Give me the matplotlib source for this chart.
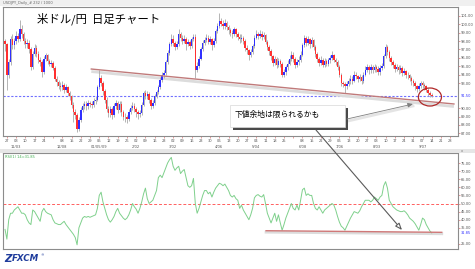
import numpy as np
import matplotlib.pyplot as plt
from matplotlib.patches import Ellipse, Rectangle, FancyArrowPatch

plt.rcParams['font.family'] = ['DejaVu Sans']
JP = ['Noto Sans CJK JP', 'DejaVu Sans']

# USD/JPY daily candles (232 bars)
first_open = 98.0
closes = [
    97.6, 94.0, 95.5, 98.3, 97.5, 98.0, 98.6, 98.3, 99.5, 98.8,
    98.0, 97.6, 97.8, 97.0, 94.9, 96.5, 97.2, 96.5, 95.8, 95.5,
    94.3, 95.9, 96.3, 95.6, 95.3, 95.4, 94.8, 93.5, 93.1, 92.7,
    92.5, 92.8, 92.2, 92.5, 91.8, 91.4, 90.4, 89.5, 89.2, 87.5,
    88.6, 89.8, 90.2, 90.5, 90.2, 90.6, 90.5, 90.4, 90.8, 91.0,
    92.5, 93.6, 93.0, 92.0, 91.0, 89.9, 89.4, 89.9, 89.2, 90.2,
    90.6, 89.8, 90.5, 89.5, 89.0, 88.9, 88.7, 89.6, 90.0, 90.3,
    89.9, 89.6, 89.3, 89.4, 90.4, 91.8, 91.5, 91.7, 91.0, 90.3,
    90.6, 91.4, 91.9, 92.5, 93.4, 94.0, 94.2, 95.5, 96.6, 97.6,
    98.2, 97.8, 97.3, 97.6, 98.8, 98.4, 98.0, 98.3, 97.7, 97.9,
    97.4, 98.2, 98.5, 94.6, 95.0, 95.9, 97.0, 97.8, 98.1, 98.4,
    97.9, 98.2, 97.5, 98.0, 99.2, 99.8, 100.4, 100.1, 99.8, 100.2,
    99.7, 99.3, 99.0, 98.8, 99.4, 98.9, 98.5, 98.2, 98.4, 98.0,
    97.2, 96.9, 96.4, 96.7, 97.4, 98.4, 98.8, 98.6, 98.9, 98.5,
    98.7, 97.9, 97.3, 96.8, 96.2, 95.4, 95.9, 95.2, 95.6, 95.3,
    94.0, 94.3, 94.9, 95.3, 95.9, 96.4, 95.9, 95.2, 95.5, 95.8,
    96.4, 97.5, 98.4, 97.8, 98.2, 97.6, 98.1, 97.3, 96.5, 95.9,
    95.4, 95.8, 95.2, 95.6, 95.3, 95.7, 96.0, 96.3, 95.8, 95.5,
    94.9, 94.0, 93.0, 92.9, 92.6, 92.9, 93.2, 93.5, 93.3, 94.0,
    93.8, 93.5, 93.7, 93.2, 94.0, 94.6, 94.9, 94.5, 94.9, 94.6,
    94.9, 94.7, 94.3, 94.8, 95.0, 96.2, 97.3, 96.7, 96.0, 95.5,
    95.2, 94.7, 94.9, 94.5, 94.8, 94.2, 94.4, 94.0, 93.9, 93.6,
    93.2, 93.0, 92.6, 92.3, 92.7, 93.0, 92.8, 92.6, 92.2, 91.8,
    91.6, 91.5,
]
highs = [
    98.3, 97.8, 95.9, 98.6, 98.8, 98.4, 99.2, 99.0, 100.5, 99.9,
    99.1, 98.4, 98.2, 98.1, 97.3, 96.8, 97.6, 97.5, 96.8, 96.1,
    95.7, 96.2, 96.6, 96.5, 95.9, 95.8, 95.6, 95.0, 93.8, 93.4,
    93.1, 93.2, 93.0, 92.9, 92.7, 92.1, 91.6, 90.7, 89.9, 89.4,
    88.9, 90.1, 90.6, 90.9, 90.8, 91.0, 90.9, 90.8, 91.2, 91.5,
    92.8, 94.6, 94.0, 93.3, 92.3, 91.3, 90.2, 90.3, 90.1, 90.6,
    91.0, 90.9, 90.9, 90.8, 89.8, 89.4, 89.2, 89.9, 90.4, 90.7,
    90.6, 90.1, 89.8, 89.8, 90.7, 92.1, 92.2, 92.0, 91.9, 91.2,
    91.0, 91.7, 92.2, 92.8, 93.7, 94.3, 94.6, 95.8, 96.9, 97.9,
    98.8, 98.7, 98.0, 98.0, 99.4, 99.1, 98.7, 98.7, 98.5, 98.3,
    98.1, 98.5, 98.9, 98.8, 95.5, 96.2, 97.3, 98.1, 98.5, 98.8,
    98.7, 98.6, 98.4, 98.4, 99.5, 100.2, 101.4, 100.8, 100.5, 100.6,
    100.4, 99.9, 99.6, 99.3, 99.7, 99.6, 99.1, 98.8, 98.8, 98.6,
    98.2, 97.5, 97.1, 97.1, 97.7, 98.7, 99.3, 99.1, 99.3, 99.2,
    99.1, 98.9, 98.1, 97.5, 97.0, 96.4, 96.2, 96.1, 96.0, 95.9,
    95.5, 94.7, 95.2, 95.7, 96.3, 96.8, 96.7, 96.1, 95.9, 96.2,
    96.8, 97.8, 98.7, 98.6, 98.6, 98.4, 98.5, 98.3, 97.5, 96.7,
    96.1, 96.2, 96.0, 96.0, 95.9, 96.0, 96.4, 96.8, 96.5, 96.0,
    95.7, 95.1, 94.2, 93.3, 93.1, 93.2, 93.6, 93.9, 93.8, 94.4,
    94.3, 94.0, 94.1, 93.9, 94.3, 95.0, 95.3, 95.2, 95.3, 95.1,
    95.3, 95.2, 95.0, 95.1, 95.4, 96.5, 97.7, 97.5, 96.9, 96.2,
    95.7, 95.4, 95.3, 95.1, 95.2, 95.0, 94.8, 94.6, 94.3, 94.1,
    93.8, 93.5, 93.2, 92.8, 93.0, 93.3, 93.2, 93.0, 92.8, 92.4,
    92.0, 91.8,
]
lows = [
    96.8, 92.2, 93.6, 95.2, 97.1, 97.1, 97.7, 97.9, 98.0, 98.4,
    97.6, 97.2, 97.2, 96.6, 94.6, 94.7, 96.2, 96.1, 95.4, 95.0,
    93.7, 94.1, 95.6, 95.3, 95.0, 94.9, 94.5, 93.2, 92.7, 92.3,
    92.1, 92.2, 91.8, 91.9, 91.4, 91.0, 90.0, 88.4, 88.7, 87.1,
    87.3, 88.4, 89.5, 89.9, 89.8, 89.9, 90.1, 90.0, 90.1, 90.5,
    90.8, 92.3, 92.6, 91.6, 90.6, 89.5, 88.9, 89.0, 88.7, 89.0,
    89.9, 89.4, 89.5, 89.1, 88.6, 88.3, 88.2, 88.5, 89.3, 89.8,
    89.5, 89.0, 88.7, 88.9, 89.2, 90.2, 91.1, 91.1, 90.6, 89.9,
    90.0, 90.4, 91.2, 91.7, 92.3, 93.1, 93.6, 94.0, 95.3, 96.4,
    97.4, 97.4, 96.9, 97.0, 97.4, 98.0, 97.6, 97.8, 96.9, 97.4,
    97.0, 97.2, 98.0, 93.6, 94.3, 94.8, 95.7, 96.8, 97.5, 97.9,
    97.6, 97.7, 96.9, 97.3, 97.8, 99.0, 99.6, 99.8, 99.4, 99.5,
    99.3, 98.9, 98.6, 98.4, 98.6, 98.5, 98.1, 97.8, 97.9, 97.6,
    96.8, 96.5, 95.7, 96.1, 96.5, 97.2, 98.2, 98.2, 98.4, 98.1,
    98.2, 97.6, 96.9, 96.4, 95.8, 95.0, 95.1, 94.8, 94.9, 94.9,
    93.7, 93.7, 94.0, 94.6, 95.1, 95.6, 95.5, 94.8, 94.9, 95.2,
    95.5, 96.2, 97.3, 97.4, 97.5, 97.2, 97.3, 96.9, 96.1, 95.5,
    95.0, 95.1, 94.9, 94.9, 95.0, 95.0, 95.4, 95.8, 95.5, 95.1,
    94.5, 93.7, 92.7, 92.5, 91.8, 92.3, 92.6, 92.9, 92.9, 93.1,
    93.5, 93.1, 93.2, 92.9, 93.0, 93.8, 94.3, 94.1, 94.2, 94.2,
    94.3, 94.3, 93.9, 94.0, 94.5, 94.8, 96.0, 96.3, 95.6, 95.1,
    94.8, 94.3, 94.4, 94.1, 94.2, 93.8, 93.9, 93.6, 93.5, 93.2,
    92.8, 92.6, 92.2, 91.9, 92.0, 92.4, 92.4, 92.2, 91.9, 91.5,
    91.3, 91.3,
]
rsi = [
    34, 28, 40, 44, 44, 46, 47, 48, 46, 44,
    44, 43, 40, 38, 37, 46, 45, 43, 41, 39,
    45, 47, 45, 44, 43.5, 43, 40, 38, 37.5, 37,
    37, 38, 39, 37, 35.5, 34, 32.5, 31, 29, 24.5,
    35, 38, 41, 42, 41.5, 42, 41.5, 42, 42.5, 43,
    47, 55, 57, 51, 47, 43, 40, 38.5, 40, 42,
    45, 47, 44, 42.5, 41, 40, 41, 43, 46, 50,
    48, 46.5, 44, 47, 51, 56, 59.5, 53, 50, 51,
    52, 55, 58, 66, 67.5, 66, 69, 72, 75, 77,
    78.5, 73, 70.5, 72, 73, 68.5, 70, 71, 66, 61,
    60, 61, 65.5, 50, 44, 47, 51, 55, 58, 58,
    56, 57, 54, 57, 59.5, 61, 62.5, 62, 61, 62,
    60, 58, 55, 54, 55, 53, 52, 47, 49, 46,
    44, 42, 40, 43, 47, 53.5, 55, 55.5, 54.5, 54,
    55.5, 50, 44, 41, 38, 41, 44, 39, 43, 38,
    33.5, 37, 41, 44, 47, 50, 47, 46, 49, 46,
    52, 58.5, 59.5, 55, 56, 55, 55, 50, 47, 46,
    48, 46, 44, 46, 47, 48, 49, 50, 49, 46,
    42, 38.5, 36, 35, 33.5, 36, 38.5, 41, 43, 45,
    44.5, 44, 45.5, 48, 50, 52, 52, 52, 51, 52,
    54, 53, 52, 54, 55, 61, 63.5, 59.5, 52, 50,
    48, 47, 46, 45.5, 45, 45, 45.5, 44.5, 43, 41,
    40, 39, 37.5, 35.5, 33.5, 37, 41, 40, 37, 35,
    33, 31.85,
]

# weekly date labels (every 5th bar, starting at bar 1)
day_labels = ["27", "03", "10", "17", "24", "", "08", "15", "22", "29",
              "05", "12", "19", "26", "02", "09", "16", "23", "02", "09",
              "16", "23", "30", "06", "13", "20", "27", "04", "11", "18",
              "25", "", "08", "15", "22", "29", "06", "13", "20", "27",
              "03", "10", "17", "24", "31", "07", "14", "21", "28"]
month_labels = {1: "11/03", 6: "12/08", 10: "01/05/09", 14: "2/02", 18: "3/02",
                23: "4/06", 27: "5/04", 32: "6/08", 36: "7/06", 40: "8/03",
                45: "9/07"}

price_ticks = [101, 100, 99, 98, 97, 96, 95, 94, 93, 90, 89, 88, 87]
rsi_ticks = [75, 70, 65, 60, 55, 50, 45, 40, 35, 25]
last_price = 91.50
last_rsi = 31.85

# hand-drawn lines on the chart (bar index, value)
trend_x = [46.7, 243.0]
trend_y = [94.67, 90.50]
rsi_support_x = [141.3, 236.4]
rsi_support_y = [33.2, 32.2]

W, H = 475, 269
fig = plt.figure(figsize=(W / 100, H / 100), dpi=100)
fig.patch.set_facecolor('white')


def px_axes(l, t, r, b):
    return fig.add_axes([l / W, 1 - b / H, (r - l) / W, (b - t) / H])


o = np.array([first_open] + closes[:-1])
c = np.array(closes)
hi = np.array(highs)
lo = np.array(lows)
n = min(len(c), len(hi), len(lo))
o, c, hi, lo = o[:n], c[:n], hi[:n], lo[:n]
idx = np.arange(n)

xlim = (-1.1, 245.2)
lab_fs = 2.6

# ---- price panel
ax = px_axes(3, 7, 458, 136)
ax.set_xlim(*xlim)
ax.set_ylim(86.68, 102.07)
ax.axhline(last_price, color='#7070ff', lw=0.8, ls=(0, (2, 1.5)), zorder=1)
ax.vlines(idx, lo, hi, color='#a8a8a8', lw=0.6, zorder=2)
body = np.where(np.abs(c - o) < 0.1, 0.1, np.abs(c - o))
bot = np.minimum(o, c)
up = c >= o
ax.bar(idx[up], body[up], bottom=bot[up], width=0.8, color='#3030ff', lw=0, zorder=3)
ax.bar(idx[~up], body[~up], bottom=bot[~up], width=0.8, color='#ff3030', lw=0, zorder=3)

ax.plot(trend_x, [v - 0.3 for v in trend_y], color='#dcdcdc', lw=2.0, zorder=1.5,
        solid_capstyle='butt')
ax.plot(trend_x, trend_y, color='#c07a7a', lw=1.0, zorder=4)
ax.add_patch(Ellipse((230, 91.33), 12.5, 2.15, fill=False, ec='#b02828', lw=0.9, zorder=5))

ax.yaxis.tick_right()
ax.set_yticks(price_ticks)
ax.set_yticklabels(['%.2f' % v for v in price_ticks])
ax.annotate('%.2f' % last_price, xy=(1, last_price), xycoords=('axes fraction', 'data'),
            xytext=(2.2, 0), textcoords='offset points', fontsize=lab_fs, color='#3030ff',
            va='center', ha='left')
xt = [1 + 5 * k for k in range(len(day_labels))]
xl = [d + ('\n' + month_labels[k] if k in month_labels else '\n') for k, d in enumerate(day_labels)]
ax.set_xticks(xt)
ax.set_xticklabels(xl, linespacing=1.6)
ax.tick_params(axis='both', labelsize=lab_fs, labelcolor='#555555', color='#e07070',
               width=0.5, length=1.4, pad=0.8)

# ---- RSI panel
ax2 = px_axes(3, 153, 458, 249)
ax2.set_xlim(*xlim)
ax2.set_ylim(21.9, 81.2)
ax2.axhline(50, color='#ff6060', lw=0.7, ls=(0, (3, 2)), zorder=1)
ax2.plot(idx, rsi[:n], color='#7fd08c', lw=0.7, zorder=3)
ax2.plot(rsi_support_x, [v - 0.9 for v in rsi_support_y], color='#dcdcdc', lw=2.0, zorder=1.5)
ax2.plot(rsi_support_x, rsi_support_y, color='#d07878', lw=1.0, zorder=4)
ax2.yaxis.tick_right()
ax2.set_yticks(rsi_ticks)
ax2.set_yticklabels(['%.2f' % v for v in rsi_ticks])
ax2.annotate('%.2f' % last_rsi, xy=(1, last_rsi), xycoords=('axes fraction', 'data'),
             xytext=(2.2, 0), textcoords='offset points', fontsize=lab_fs, color='#3030ff',
             va='center', ha='left')
ax2.set_xticks([])
ax2.tick_params(axis='y', labelsize=lab_fs, labelcolor='#555555', color='#e07070',
                width=0.5, length=1.4, pad=0.8)
ax2.text(0.004, 0.975, 'RSI(1) 14=31.85', transform=ax2.transAxes, fontsize=2.6,
         color='#40b050', va='top', ha='left')

for a in (ax, ax2):
    for s in a.spines.values():
        s.set_color('#8c8c8c')
        s.set_linewidth(0.8)

# ---- overlay in pixel coordinates for callouts and chrome
ov = fig.add_axes([0, 0, 1, 1])
ov.set_xlim(0, W)
ov.set_ylim(H, 0)
ov.axis('off')
ov.patch.set_alpha(0)
ov.set_zorder(10)

ov.add_patch(Rectangle((0, 0), W, 5.5, color='#f0f0f0', lw=0, zorder=0))
ov.text(3, 3.2, 'USDJPY_Daily_# 232 / 1000', fontsize=2.6, color='#666666', va='center')
ov.add_patch(Rectangle((0, 149), W, 3.5, color='#e6e6e6', lw=0, zorder=0))
ov.text(461, 150.8, 'x', fontsize=2.6, color='#777777', va='center')

ov.text(37, 18.5, '米ドル/円  日足チャート', fontsize=8.2, family=JP, color='black',
        va='center', ha='left')

# callout box with drop shadow
ov.add_patch(Rectangle((233, 108), 115, 22, color='#4a4a4a', lw=0, zorder=2))
ov.add_patch(Rectangle((230, 105), 115, 22, fc='white', ec='#d8d8d8', lw=0.5, zorder=3))
ov.text(235, 114.5, '下値余地は限られるかも', fontsize=5.6, family=JP, color='black',
        va='center', ha='left', zorder=4)

ov.plot([348, 413], [121, 106], color='#e4e4e4', lw=2.0, zorder=1.5)
ov.add_patch(FancyArrowPatch((347, 119), (413, 104), arrowstyle='-|>,head_length=3,head_width=1.3',
                             color='#808080', lw=0.6, mutation_scale=1, zorder=4,
                             shrinkA=0, shrinkB=0))
ov.add_patch(FancyArrowPatch((316, 130), (402, 230), arrowstyle='-|>,head_length=4,head_width=1.6',
                             fc='white', ec='#5a5a5a', lw=0.8, mutation_scale=1, zorder=4,
                             shrinkA=0, shrinkB=0))

# FXCM logo
ov.text(4, 258.5, 'Z', fontsize=7.5, fontweight='bold', style='italic', color='#1f3c9c',
        va='center', ha='left')
ov.text(12, 258.5, 'FXCM', fontsize=6.2, fontweight='bold', style='italic', color='#1f3c9c',
        va='center', ha='left')
ov.text(41, 255, '®', fontsize=2.5, color='#1f3c9c', va='center')

fig.savefig('out.png', dpi=100)
